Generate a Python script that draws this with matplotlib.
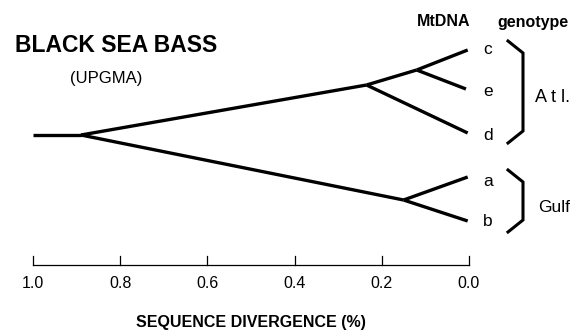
import matplotlib
matplotlib.use("Agg")
import matplotlib.pyplot as plt

# ---- data (sequence divergence, %) ----
leaves = ["c", "e", "d", "a", "b"]
root_start = 1.0
root_div = 0.89
atl_div = 0.235
ce_div = 0.12
gulf_div = 0.15
tip_div = 0.0
tick_vals = [1.0, 0.8, 0.6, 0.4, 0.2, 0.0]
tick_labels = ["1.0", "0.8", "0.6", "0.4", "0.2", "0.0"]
groups = ["Atl.", "Gulf"]

W, H = 583, 333
fig = plt.figure(figsize=(W / 100, H / 100), dpi=100)
ax = fig.add_axes([0, 0, 1, 1])
ax.axis("off")

# pixel mapping: x_px = X0 - S * d
X0, S = 469.0, 436.0
def d_of(px):
    return (X0 - px) / S
ax.set_xlim(d_of(0), d_of(W))
ax.set_ylim(H, 0)

FONT = ["Liberation Sans", "DejaVu Sans"]
lw = 2.4
k = "black"

# leaf layout (vertical positions)
leaf_y = {"c": 50, "e": 89, "d": 133, "a": 177, "b": 221}
y_root, y_atl, y_ce, y_gulf = 135, 85, 70, 200

def seg(x1, y1, x2, y2, w=lw):
    ax.plot([x1, x2], [y1, y2], color=k, lw=w, solid_capstyle="butt")

tip_end = tip_div + 0.003
seg(root_start, y_root, root_div, y_root)
seg(root_div, y_root, atl_div, y_atl)
seg(root_div, y_root, gulf_div, y_gulf)
seg(atl_div, y_atl, ce_div, y_ce)
seg(atl_div, y_atl, tip_end, leaf_y["d"])
seg(ce_div, y_ce, tip_end, leaf_y["c"])
seg(ce_div, y_ce, tip_end + 0.004, leaf_y["e"])
seg(gulf_div, y_gulf, tip_end, leaf_y["a"])
seg(gulf_div, y_gulf, tip_end, leaf_y["b"])

# leaf labels
label_dy = {"c": 0, "e": 3, "d": 2, "a": 4, "b": 1}
for name in leaves:
    ax.text(d_of(488), leaf_y[name] + label_dy[name], name, fontsize=12.5,
            family=FONT, ha="center", va="center")

# brackets
def bracket(y_top, y_bot):
    xa, xb = d_of(508), d_of(523)
    ax.plot([xa, xb, xb, xa], [y_top, y_top + 12, y_bot - 12, y_bot],
            color=k, lw=2.2, solid_joinstyle="miter")
bracket(41, 143)
bracket(170, 232)
ax.text(d_of(535), 97, "A t l.", fontsize=13, family=FONT, ha="left", va="center")
ax.text(d_of(538), 208, groups[1], fontsize=12.5, family=FONT, ha="left", va="center")

# axis
ax.plot([tick_vals[0], tick_vals[-1]], [265, 265], color=k, lw=0.9)
for v, lab in zip(tick_vals, tick_labels):
    ax.plot([v, v], [265, 256], color=k, lw=0.9)
    ax.text(v, 284, lab, fontsize=11.5, family=FONT, ha="center", va="center")
ax.text(d_of(251), 322, "SEQUENCE DIVERGENCE (%)", fontsize=11.5, family=FONT,
        fontweight="bold", ha="center", va="center")

# titles
ax.text(d_of(15), 45, "BLACK SEA BASS", fontsize=16.5, family=FONT,
        fontweight="bold", ha="left", va="center")
ax.text(d_of(70), 78, "(UPGMA)", fontsize=12, family=FONT, ha="left", va="center")
ax.text(d_of(417), 22, "MtDNA", fontsize=11.5, family=FONT,
        fontweight="bold", ha="left", va="center")
ax.text(d_of(497), 22, "genotype", fontsize=11.5, family=FONT,
        fontweight="bold", ha="left", va="center")

fig.savefig("out.png", dpi=100)
